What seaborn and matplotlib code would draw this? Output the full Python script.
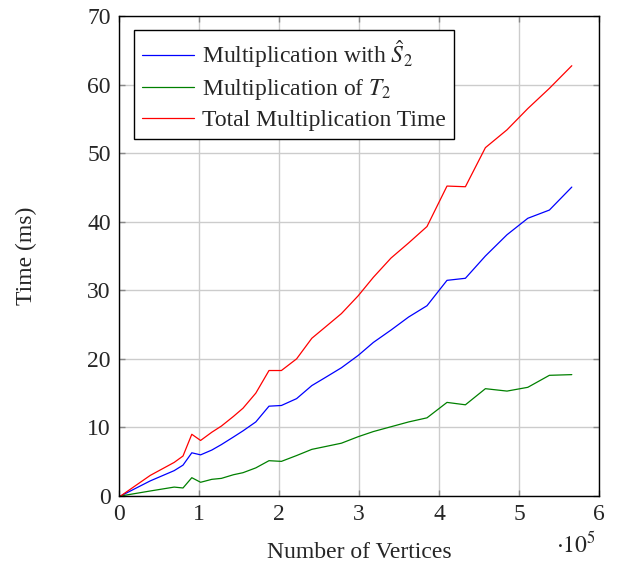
import matplotlib
matplotlib.use("Agg")
import matplotlib.pyplot as plt
import seaborn as sns
import pandas as pd

# Data (x in units of 10^5 vertices, times in ms)
vertices = [0.02, 0.39, 0.69, 0.80, 0.91, 1.02, 1.16, 1.28, 1.43, 1.55, 1.71, 1.875, 2.03, 2.22,
            2.41, 2.575, 2.78, 2.99, 3.18, 3.40, 3.62, 3.85, 4.10, 4.33, 4.58, 4.85, 5.11, 5.38, 5.66]
mult_s2 = [0.0, 2.2, 3.7, 4.5, 6.3, 6.0, 6.7, 7.5, 8.6, 9.5, 10.8, 13.1, 13.2, 14.2,
           16.1, 17.25, 18.7, 20.5, 22.4, 24.2, 26.1, 27.75, 31.45, 31.75, 35.0, 38.1, 40.5, 41.7, 45.05]
mult_t2 = [0.0, 0.73, 1.3, 1.17, 2.67, 2.0, 2.43, 2.57, 3.1, 3.4, 4.1, 5.15, 5.05, 5.9,
           6.8, 7.2, 7.7, 8.65, 9.4, 10.1, 10.8, 11.4, 13.65, 13.3, 15.65, 15.3, 15.85, 17.6, 17.7]
total = [0.0, 3.0, 4.9, 5.83, 9.0, 8.1, 9.3, 10.2, 11.6, 12.8, 15.0, 18.3, 18.3, 20.0,
         23.0, 24.6, 26.6, 29.2, 31.9, 34.7, 36.9, 39.3, 45.2, 45.1, 50.8, 53.4, 56.5, 59.45, 62.75]

series_names = [r"Multiplication with $\hat{S}_2$", r"Multiplication of $T_2$", "Total Multiplication Time"]
series_colors = ["#0000ff", "#008000", "#ff0000"]
x_ticks = [0, 1, 2, 3, 4, 5, 6]
y_ticks = [0, 10, 20, 30, 40, 50, 60, 70]

rows = []
for name, vals in zip(series_names, [mult_s2, mult_t2, total]):
    for xv, yv in zip(vertices, vals):
        rows.append({"x": xv, "y": yv, "series": name})
df = pd.DataFrame(rows)

sns.set_style("white")
plt.rcParams["font.family"] = ["Liberation Serif", "DejaVu Serif"]
plt.rcParams["mathtext.fontset"] = "stix"

FS = 17

fig = plt.figure(figsize=(6.21, 5.67), dpi=100)
ax = fig.add_axes([119 / 621, 1 - 496 / 567, 480 / 621, 480 / 567])

sns.lineplot(data=df, x="x", y="y", hue="series", hue_order=series_names,
             palette=dict(zip(series_names, series_colors)), linewidth=0.9,
             ax=ax, sort=False, estimator=None)

ax.set_xlim(0, 6)
ax.set_ylim(0, 70)
ax.set_xticks(x_ticks)
ax.set_yticks(y_ticks)
ax.set_xticklabels([str(t) for t in x_ticks], fontsize=FS)
ax.set_yticklabels([str(t) for t in y_ticks], fontsize=FS)
ax.grid(True, color="#cccccc", linewidth=1.0)
ax.set_axisbelow(True)
ax.tick_params(direction="in", length=4, width=1, color="#888888",
               top=True, right=True, bottom=True, left=True, pad=6)
for sp in ax.spines.values():
    sp.set_color("black")
    sp.set_linewidth(1.0)

ax.set_xlabel("Number of Vertices", fontsize=FS, labelpad=12)
ax.set_ylabel("Time (ms)", fontsize=FS, labelpad=36)
ax.text(0.993, -0.075, r"$\cdot 10^5$", transform=ax.transAxes, ha="right", va="top", fontsize=FS)

leg = ax.legend(loc="upper left", bbox_to_anchor=(0.031, 0.971), borderaxespad=0,
                fontsize=FS, frameon=True, fancybox=False, edgecolor="black",
                framealpha=1, handlelength=2.2, handletextpad=0.35, labelspacing=0.3,
                borderpad=0.35)
leg.get_frame().set_linewidth(1.0)

fig.savefig("out.png", dpi=100)
